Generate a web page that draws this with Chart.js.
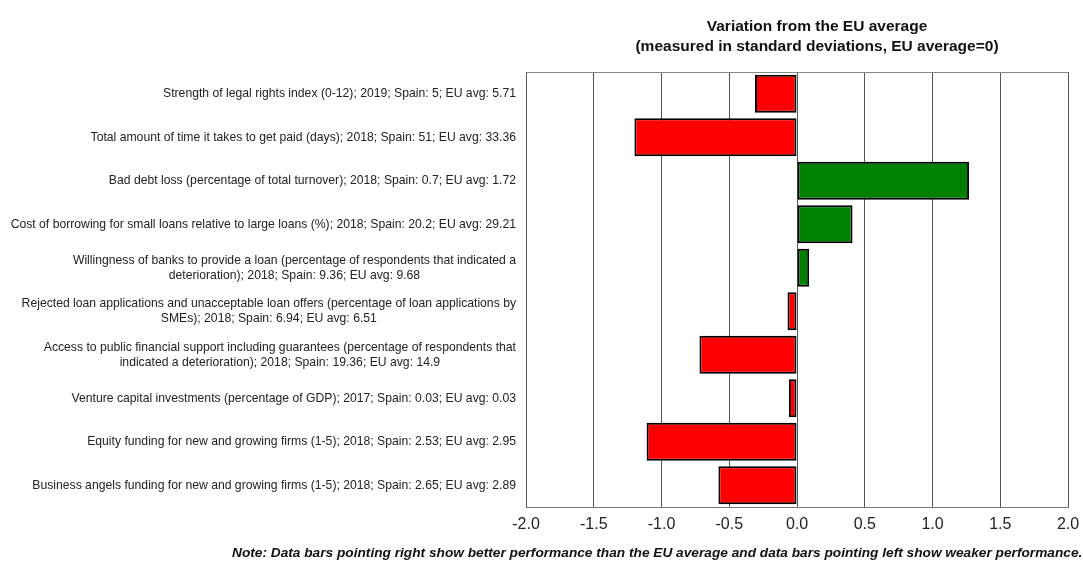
<!DOCTYPE html>
<html>
<head>
<meta charset="utf-8">
<script src="https://cdn.jsdelivr.net/npm/chart.js@4.4.1/dist/chart.umd.min.js"></script>
<style>
  html, body { margin: 0; padding: 0; background: #fff; }
  #wrap { width: 1083px; height: 564px; position: relative; }
</style>
</head>
<body>
<div id="wrap"><canvas id="c"></canvas></div>
<script>
const categories = [
  "Strength of legal rights index (0-12); 2019; Spain: 5; EU avg: 5.71",
  "Total amount of time it takes to get paid (days); 2018; Spain: 51; EU avg: 33.36",
  "Bad debt loss (percentage of total turnover); 2018; Spain: 0.7; EU avg: 1.72",
  "Cost of borrowing for small loans relative to large loans (%); 2018; Spain: 20.2; EU avg: 29.21",
  ["Willingness of banks to provide a loan (percentage of respondents that indicated a", "deterioration); 2018; Spain: 9.36; EU avg: 9.68"],
  ["Rejected loan applications and unacceptable loan offers (percentage of loan applications by", "SMEs); 2018; Spain: 6.94; EU avg: 6.51"],
  ["Access to public financial support including guarantees (percentage of respondents that", "indicated a deterioration); 2018; Spain: 19.36; EU avg: 14.9"],
  "Venture capital investments (percentage of GDP); 2017; Spain: 0.03; EU avg: 0.03",
  "Equity funding for new and growing firms (1-5); 2018; Spain: 2.53; EU avg: 2.95",
  "Business angels funding for new and growing firms (1-5); 2018; Spain: 2.65; EU avg: 2.89"
];
const deviations = [-0.31, -1.20, 1.27, 0.41, 0.09, -0.07, -0.72, -0.06, -1.11, -0.58];
const xTicks = [-2.0, -1.5, -1.0, -0.5, 0.0, 0.5, 1.0, 1.5, 2.0];
const titleLines = ["Variation from the EU average", "(measured in standard deviations, EU average=0)"];
const noteText = "Note: Data bars pointing right show better performance than the EU average and data bars pointing left show weaker performance.";

const FONT = '"Liberation Sans", Arial, sans-serif';

const textPlugin = {
  id: 'texts',
  afterDraw(chart) {
    const ctx = chart.ctx;
    const ys = chart.scales.y;
    const ca = chart.chartArea;
    ctx.save();
    // frame top line
    ctx.strokeStyle = '#888';
    ctx.lineWidth = 1;
    ctx.beginPath();
    ctx.moveTo(Math.round(ca.left) + 0.5, Math.round(ca.top) + 0.5);
    ctx.lineTo(Math.round(ca.right) + 0.5, Math.round(ca.top) + 0.5);
    ctx.stroke();

    // category labels
    ctx.font = '12.2px ' + FONT;
    ctx.fillStyle = '#222';
    ctx.textBaseline = 'middle';
    ctx.textAlign = 'center';
    const rightEdge = 516;
    const lh = 15;
    chart.data.labels.forEach((lab, i) => {
      const lines = Array.isArray(lab) ? lab : [lab];
      const maxW = Math.max(...lines.map(l => ctx.measureText(l).width));
      const cx = rightEdge - maxW / 2;
      const yc = ys.getPixelForValue(i);
      lines.forEach((l, k) => {
        ctx.fillText(l, cx, yc + (k - (lines.length - 1) / 2) * lh);
      });
    });

    // title
    ctx.font = 'bold 15.5px ' + FONT;
    ctx.fillStyle = '#111';
    ctx.textAlign = 'center';
    ctx.fillText(titleLines[0], 817, 27);
    ctx.fillText(titleLines[1], 817, 47);

    // note
    ctx.font = 'italic bold 13.7px ' + FONT;
    ctx.textAlign = 'left';
    ctx.fillText(noteText, 232, 553);
    ctx.restore();
  }
};

new Chart(document.getElementById('c'), {
  type: 'bar',
  data: {
    labels: categories,
    datasets: [{
      data: deviations,
      backgroundColor: ctx => (ctx.raw < 0 ? '#FF0000' : '#008000'),
      borderColor: '#000',
      borderWidth: 2,
      borderSkipped: false,
      barPercentage: 0.87,
      categoryPercentage: 1.0
    }]
  },
  options: {
    indexAxis: 'y',
    responsive: true,
    maintainAspectRatio: false,
    animation: false,
    layout: { padding: { top: 72, right: 15, left: 0, bottom: 0 } },
    plugins: { legend: { display: false }, tooltip: { enabled: false }, title: { display: false } },
    scales: {
      x: {
        type: 'linear',
        min: -2,
        max: 2,
        afterBuildTicks: s => { s.ticks = xTicks.map(v => ({ value: v })); },
        afterFit: s => { s.height = 57; s.paddingLeft = 0; s.paddingRight = 0; },
        grid: { color: '#555', lineWidth: 1, drawTicks: false },
        border: { display: true, color: '#777', width: 1 },
        ticks: {
          padding: 8,
          color: '#222',
          font: { family: FONT, size: 16 },
          callback: v => Number(v).toFixed(1)
        }
      },
      y: {
        type: 'category',
        afterFit: s => { s.width = 526; },
        grid: { display: false },
        border: { display: false },
        ticks: { display: false }
      }
    }
  },
  plugins: [textPlugin]
});
</script>
</body>
</html>
